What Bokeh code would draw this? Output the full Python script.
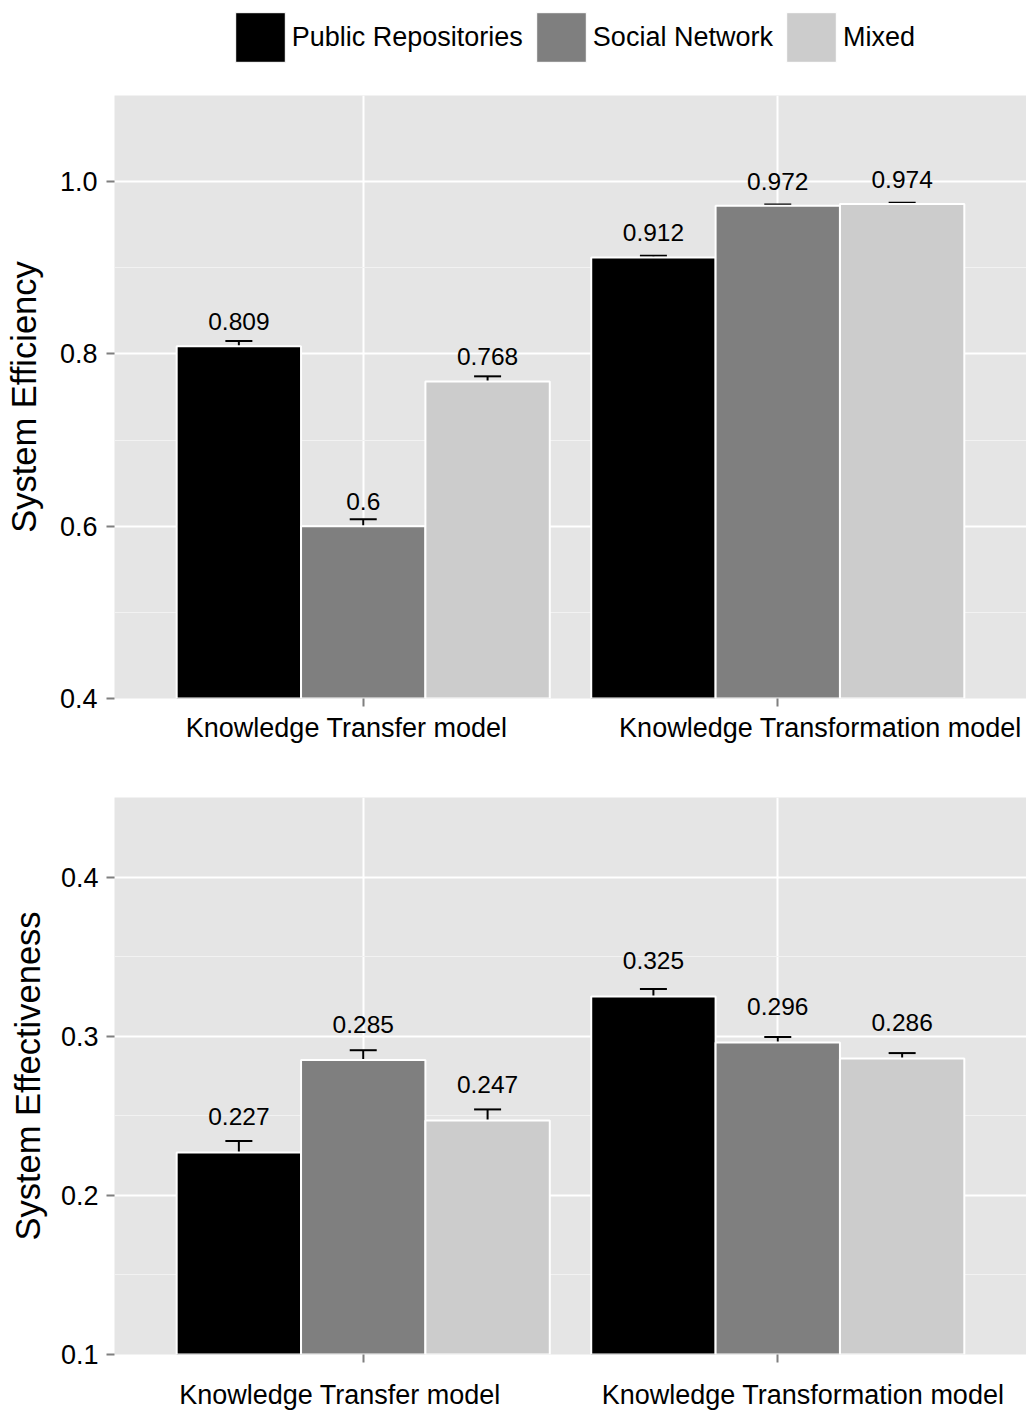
from bokeh.plotting import figure
from bokeh.models import (ColumnDataSource, Range1d, FixedTicker, NumeralTickFormatter,
                          LinearAxis, Whisker, TeeHead, Legend, LegendItem)
from bokeh.layouts import column
from bokeh.transform import dodge
from bokeh.core.properties import value
from bokeh.embed import file_html
from bokeh.resources import INLINE

# ---------------- data ----------------
categories = ["Knowledge Transfer model", "Knowledge Transformation model"]
series_names = ["Public Repositories", "Social Network", "Mixed"]
series_colors = ["#000000", "#7F7F7F", "#CCCCCC"]

efficiency_public = [0.809, 0.912]
efficiency_social = [0.600, 0.972]
efficiency_mixed = [0.768, 0.974]
efficiency_err_public = [0.006, 0.002]
efficiency_err_social = [0.008, 0.0015]
efficiency_err_mixed = [0.006, 0.0015]

effectiveness_public = [0.227, 0.325]
effectiveness_social = [0.285, 0.296]
effectiveness_mixed = [0.247, 0.286]
effectiveness_err_public = [0.0072, 0.0046]
effectiveness_err_social = [0.0062, 0.0035]
effectiveness_err_mixed = [0.0070, 0.0034]

efficiency_ticks = [0.4, 0.6, 0.8, 1.0]
efficiency_minor = [0.5, 0.7, 0.9]
effectiveness_ticks = [0.1, 0.2, 0.3, 0.4]
effectiveness_minor = [0.15, 0.25, 0.35]

FONT = "Liberation Sans"
BG = "#E5E5E5"
W = 1026


def make_panel(vals, errs, ylab, yr, ticks, minor, height, left, top, bottom,
               label_pos, label_standoff, text_off, axis_standoff, tick_standoff):
    p = figure(width=W, height=height, x_range=Range1d(0.4, 2.6), y_range=Range1d(*yr),
               output_backend="svg", toolbar_location=None,
               min_border_left=left, min_border_right=0, min_border_top=top,
               min_border_bottom=bottom)
    p.background_fill_color = BG
    p.border_fill_color = "white"
    p.outline_line_color = None

    # grid
    p.xgrid.ticker = FixedTicker(ticks=[1, 2])
    p.xgrid.grid_line_color = "white"
    p.xgrid.grid_line_width = 2
    p.ygrid.ticker = FixedTicker(ticks=ticks, minor_ticks=minor)
    p.ygrid.grid_line_color = "white"
    p.ygrid.grid_line_width = 2
    p.ygrid.minor_grid_line_color = "#F2F2F2"
    p.ygrid.minor_grid_line_width = 1.2

    # y axis
    ya = p.yaxis[0]
    ya.ticker = FixedTicker(ticks=ticks, minor_ticks=minor)
    ya.formatter = NumeralTickFormatter(format="0.0")
    ya.axis_line_color = None
    ya.major_tick_line_color = "#7F7F7F"
    ya.major_tick_line_width = 2
    ya.major_tick_out = 8
    ya.major_tick_in = 0
    ya.minor_tick_line_color = None
    ya.major_label_text_font = FONT
    ya.major_label_text_font_size = "27px"
    ya.major_label_text_color = "#000000"
    ya.major_label_standoff = tick_standoff
    ya.axis_label = ylab
    ya.axis_label_text_font = FONT
    ya.axis_label_text_font_size = "34.5px"
    ya.axis_label_text_font_style = "normal"
    ya.axis_label_text_color = "#000000"
    ya.axis_label_standoff = axis_standoff

    # x axis: tick marks only (labels not drawn)
    xa = p.xaxis[0]
    xa.ticker = FixedTicker(ticks=[1, 2])
    xa.axis_line_color = None
    xa.major_tick_line_color = "#7F7F7F"
    xa.major_tick_line_width = 2
    xa.major_tick_out = 8
    xa.major_tick_in = 0
    xa.minor_tick_line_color = None
    xa.major_label_text_font_size = "1px"
    xa.major_label_text_color = None
    xa.major_label_standoff = 0

    # x axis: category labels
    la = LinearAxis(ticker=FixedTicker(ticks=label_pos),
                    major_label_overrides={label_pos[i]: categories[i] for i in range(2)})
    la.axis_line_color = None
    la.major_tick_line_color = None
    la.major_tick_out = 0
    la.major_tick_in = 0
    la.minor_tick_line_color = None
    la.major_label_text_font = FONT
    la.major_label_text_font_size = "27px"
    la.major_label_text_color = "#000000"
    la.major_label_standoff = label_standoff
    p.add_layout(la, "below")

    offsets = [-0.3, 0.0, 0.3]
    sources = []
    for k in range(3):
        v, e = vals[k], errs[k]
        src = ColumnDataSource(dict(
            x=[1, 2], top=v,
            upper=[v[i] + e[i] for i in range(2)],
            lower=[v[i] - e[i] for i in range(2)],
            lab=[f"{t:g}" for t in v]))
        sources.append(src)
        p.vbar(x=dodge("x", offsets[k], range=p.x_range), top="top", bottom=0, width=0.3,
               source=src, fill_color=series_colors[k], line_color="white", line_width=2)
        w = Whisker(source=src, base=dodge("x", offsets[k], range=p.x_range),
                    upper="upper", lower="lower", dimension="height",
                    line_color="black", line_width=2,
                    upper_head=TeeHead(size=27, line_color="black", line_width=2),
                    lower_head=TeeHead(size=27, line_color="black", line_width=2))
        p.add_layout(w)
        p.text(x=dodge("x", offsets[k], range=p.x_range), y="top", text="lab", source=src,
               text_align="center", text_baseline="alphabetic", y_offset=-text_off,
               text_font=value(FONT), text_font_size="24.5px", text_color="#000000")
    return p, sources


top_vals = [efficiency_public, efficiency_social, efficiency_mixed]
top_errs = [efficiency_err_public, efficiency_err_social, efficiency_err_mixed]
bot_vals = [effectiveness_public, effectiveness_social, effectiveness_mixed]
bot_errs = [effectiveness_err_public, effectiveness_err_social, effectiveness_err_mixed]

p1, top_sources = make_panel(top_vals, top_errs, "System Efficiency", (0.4, 1.1),
                             efficiency_ticks, efficiency_minor,
                             height=680, left=114, top=15, bottom=62,
                             label_pos=[0.960, 2.103], label_standoff=6, text_off=24.5,
                             axis_standoff=14, tick_standoff=9)

p2, _ = make_panel(bot_vals, bot_errs, "System Effectiveness", (0.1, 0.45),
                   effectiveness_ticks, effectiveness_minor,
                   height=652, left=111, top=37, bottom=56,
                   label_pos=[0.944, 2.061], label_standoff=17, text_off=36,
                   axis_standoff=11, tick_standoff=8)

# ---------------- legend strip (key only; its bars lie outside its view) ----------------
pl = figure(width=W, height=80, output_backend="svg", toolbar_location=None,
            x_range=Range1d(0.4, 2.6), y_range=Range1d(2.0, 3.0),
            x_axis_location=None, y_axis_location=None,
            min_border_left=0, min_border_right=0, min_border_top=0, min_border_bottom=0)
pl.grid.visible = False
pl.outline_line_color = None
pl.background_fill_color = "white"
pl.border_fill_color = "white"
legend_items = []
for k in range(3):
    r = pl.vbar(x="x", top="top", bottom=0, width=0.3, source=top_sources[k],
                fill_color=series_colors[k], line_color="white", line_width=1)
    legend_items.append(LegendItem(label=series_names[k], renderers=[r]))
legend = Legend(items=legend_items, orientation="horizontal", location=(114.75, 11.75),
                glyph_width=62, glyph_height=62, label_standoff=1, spacing=7,
                padding=0, margin=0, border_line_color=None, background_fill_alpha=0,
                label_text_font=FONT, label_text_font_size="27px",
                label_text_color="#000000", label_height=62)
pl.add_layout(legend)

layout = column(pl, p1, p2, spacing=0)
open("out.html", "w").write(file_html(layout, INLINE))
